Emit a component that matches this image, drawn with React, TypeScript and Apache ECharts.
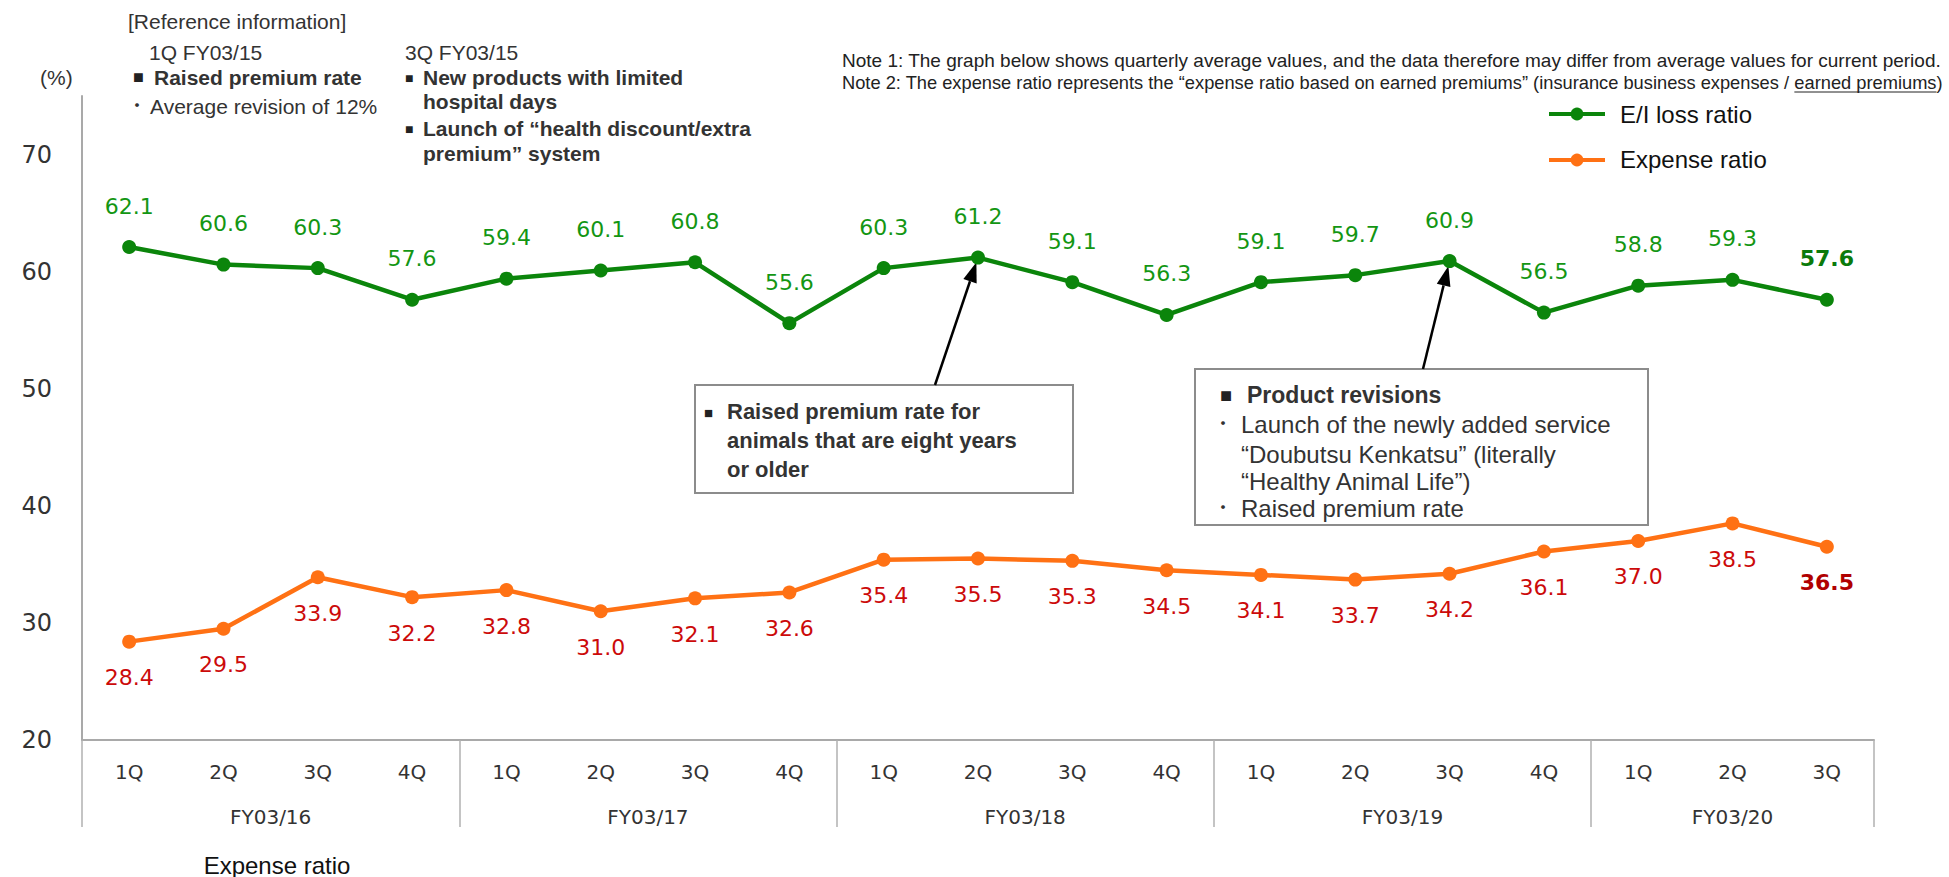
import React, { useEffect, useRef } from 'react';
import * as echarts from 'echarts';

const quarterLabels = ['1Q','2Q','3Q','4Q','1Q','2Q','3Q','4Q','1Q','2Q','3Q','4Q','1Q','2Q','3Q','4Q','1Q','2Q','3Q'];
const fiscalYears = ['FY03/16','FY03/17','FY03/18','FY03/19','FY03/20'];
const quartersPerYear = [4, 4, 4, 4, 3];
const lossRatio = [62.1,60.6,60.3,57.6,59.4,60.1,60.8,55.6,60.3,61.2,59.1,56.3,59.1,59.7,60.9,56.5,58.8,59.3,57.6];
const expenseRatio = [28.4,29.5,33.9,32.2,32.8,31.0,32.1,32.6,35.4,35.5,35.3,34.5,34.1,33.7,34.2,36.1,37.0,38.5,36.5];
const yTickLabels = [20, 30, 40, 50, 60, 70];
const annotationTargets = [9, 14]; // indices of points the arrows point to

const GREEN = '#0b850b';
const GREEN_LABEL = '#139613';
const ORANGE = '#ff7114';
const RED_LABEL = '#cc0a0a';
const ARIAL = '"Liberation Sans", Arial, "Noto Sans CJK JP", sans-serif';
const VERDANA = '"DejaVu Sans", Verdana, sans-serif';

function measure(text: string, font: string): number {
  const c = document.createElement('canvas').getContext('2d')!;
  c.font = font;
  return c.measureText(text).width;
}

export default function App() {
  const ref = useRef<HTMLDivElement>(null);
  useEffect(() => {
    const chart = echarts.init(ref.current!, undefined, { renderer: 'svg' });
    const categories = quarterLabels.map((q, i) => `${i}|${q}`);
    const boundaries: number[] = [];
    let acc = 0;
    quartersPerYear.forEach((n) => { boundaries.push(acc); acc += n; });
    const last = lossRatio.length - 1;

    chart.setOption({
      animation: false,
      grid: { left: 82, right: 75, top: 96, bottom: 137 },
      legend: {
        orient: 'vertical', left: 1542, top: 97, itemWidth: 56, itemHeight: 16, itemGap: 22,
        lineStyle: { width: 4 },
        textStyle: { fontFamily: ARIAL, fontSize: 24, color: '#111', padding: [0, 0, 0, 10] },
        data: ['E/I loss ratio', 'Expense ratio'],
      },
      xAxis: {
        type: 'category', data: categories, boundaryGap: true,
        axisLine: { lineStyle: { color: '#a9a9a9', width: 2 } },
        axisTick: {
          show: true, length: 87, interval: (i: number) => boundaries.includes(i),
          lineStyle: { color: '#b0b0b0', width: 1.5 },
        },
        axisLabel: {
          margin: 22, fontFamily: VERDANA, fontSize: 20, color: '#333',
          formatter: (v: string) => v.split('|')[1],
        },
      },
      yAxis: {
        type: 'value', min: 20, max: 75, interval: 10,
        axisLine: { show: true, lineStyle: { color: '#a9a9a9', width: 2 } },
        axisTick: { show: false }, splitLine: { show: false },
        axisLabel: {
          margin: 30, fontFamily: VERDANA, fontSize: 24, color: '#333',
          formatter: (v: number) => (yTickLabels.includes(v) ? String(v) : ''),
        },
      },
      series: [
        {
          type: 'line', name: 'E/I loss ratio', symbol: 'circle', symbolSize: 14,
          lineStyle: { width: 4.5, color: GREEN }, itemStyle: { color: GREEN },
          label: {
            show: true, position: 'top', distance: 23, color: GREEN_LABEL, fontSize: 22, fontFamily: VERDANA,
            formatter: (p: any) => Number(p.value).toFixed(1),
          },
          data: lossRatio.map((v, i) => i === last ? { value: v, label: { fontWeight: 'bold', color: '#0b7a0b' } } : v),
        },
        {
          type: 'line', name: 'Expense ratio', symbol: 'circle', symbolSize: 14,
          lineStyle: { width: 4.5, color: ORANGE }, itemStyle: { color: ORANGE },
          label: {
            show: true, position: 'bottom', distance: 18, color: RED_LABEL, fontSize: 22, fontFamily: VERDANA,
            formatter: (p: any) => Number(p.value).toFixed(1),
          },
          data: expenseRatio.map((v, i) => i === last ? { value: v, label: { fontWeight: 'bold', color: '#b00000' } } : v),
        },
      ],
    });

    const px = (i: number, v: number) => chart.convertToPixel({ xAxisIndex: 0, yAxisIndex: 0 }, [i, v]) as number[];
    const g: any[] = [];
    const txt = (text: string, x: number, y: number, size: number, opts: any = {}) => {
      g.push({
        type: 'text', x, y, silent: true,
        style: {
          text, fill: opts.fill || '#333', textAlign: opts.align || 'left', textVerticalAlign: opts.valign || 'middle',
          font: `${opts.bold ? 'bold ' : ''}${size}px ${opts.family || ARIAL}`, lineHeight: opts.lineHeight,
        },
      });
    };

    // Year labels under quarters
    let start = 0;
    fiscalYears.forEach((fy, k) => {
      const a = px(start, 20)[0];
      const b = px(start + quartersPerYear[k] - 1, 20)[0];
      txt(fy, (a + b) / 2, 817, 20, { align: 'center', family: VERDANA });
      start += quartersPerYear[k];
    });

    // Top-left reference information
    txt('[Reference information]', 128, 21, 21);
    txt('1Q FY03/15', 149, 52, 21);
    txt('(%)', 40, 77, 21);
    txt('\u25A0', 133, 77, 18, { fill: '#222' });
    txt('Raised premium rate', 154, 77, 21, { bold: true });
    txt('\u30FB', 128, 106, 18);
    txt('Average revision of 12%', 150, 106, 21);
    txt('3Q FY03/15', 405, 52, 21);
    txt('\u25A0', 405, 78, 14, { fill: '#222' });
    txt('New products with limited', 423, 77, 21, { bold: true });
    txt('hospital days', 423, 101, 21, { bold: true });
    txt('\u25A0', 405, 129, 14, { fill: '#222' });
    txt('Launch of \u201Chealth discount/extra', 423, 128, 21, { bold: true });
    txt('premium\u201D system', 423, 153, 21, { bold: true });

    // Notes
    const noteX = 842;
    const note1 = 'Note 1: The graph below shows quarterly average values, and the data therefore may differ from average values for current period.';
    txt(note1, noteX, 60, 19, { fill: '#222' });
    const n2a = 'Note 2: The expense ratio represents the \u201Cexpense ratio based on earned premiums\u201D (insurance business expenses / ';
    const n2b = 'earned premiums';
    const n2c = ')';
    const fullW19 = measure(n2a + n2b + n2c, `19px ${ARIAL}`);
    const n2size = Math.min(19, 19 * (1944 - noteX) / fullW19);
    const n2font = `${n2size}px ${ARIAL}`;
    const wa = measure(n2a, n2font);
    const wb = measure(n2b, n2font);
    txt(n2a, noteX, 82, n2size, { fill: '#222' });
    txt(n2b, noteX + wa, 82, n2size, { fill: '#222' });
    txt(n2c, noteX + wa + wb, 82, n2size, { fill: '#222' });
    g.push({ type: 'line', silent: true, shape: { x1: noteX + wa, y1: 92, x2: noteX + wa + wb, y2: 92 }, style: { stroke: '#222', lineWidth: 1 } });

    // Annotation box 1
    g.push({ type: 'rect', silent: true, shape: { x: 695, y: 385, width: 378, height: 108 }, style: { fill: '#fff', stroke: '#8c8c8c', lineWidth: 2 } });
    txt('\u25A0', 704, 412, 15, { fill: '#222' });
    txt('Raised premium rate for\nanimals that are eight years\nor older', 727, 397, 22, { bold: true, valign: 'top', lineHeight: 29 });

    // Annotation box 2
    g.push({ type: 'rect', silent: true, shape: { x: 1195, y: 369, width: 453, height: 156 }, style: { fill: '#fff', stroke: '#8c8c8c', lineWidth: 2 } });
    txt('\u25A0', 1220, 395, 20, { fill: '#222' });
    txt('Product revisions', 1247, 395, 23, { bold: true });
    txt('\u30FB', 1214, 424, 18);
    txt('Launch of the newly added service', 1241, 424, 24);
    txt('\u201CDoubutsu Kenkatsu\u201D (literally', 1241, 454, 24);
    txt('\u201CHealthy Animal Life\u201D)', 1241, 481, 24);
    txt('\u30FB', 1214, 508, 18);
    txt('Raised premium rate', 1241, 508, 24);

    // Arrows from boxes to data points
    const arrowStarts = [[935, 385], [1423, 369]];
    annotationTargets.forEach((idx, k) => {
      const [tx, ty] = px(idx, lossRatio[idx]);
      const [sx, sy] = arrowStarts[k];
      const dx = tx - sx, dy = ty - sy;
      const len = Math.hypot(dx, dy);
      const ux = dx / len, uy = dy / len;
      const tipX = tx - ux * 5, tipY = ty - uy * 5;
      const bx = tipX - ux * 20, by = tipY - uy * 20;
      const nx = -uy, ny = ux;
      g.push({ type: 'line', silent: true, shape: { x1: sx, y1: sy, x2: bx, y2: by }, style: { stroke: '#000', lineWidth: 2.5 } });
      g.push({
        type: 'polygon', silent: true,
        shape: { points: [[tipX, tipY], [bx + nx * 7, by + ny * 7], [bx - nx * 7, by - ny * 7]] },
        style: { fill: '#000' },
      });
    });

    // Bottom label
    txt('Expense ratio', 277, 865, 24, { align: 'center', fill: '#111' });

    chart.setOption({ graphic: g });
    return () => chart.dispose();
  }, []);
  return <div ref={ref} style={{ position: 'fixed', left: 0, top: 0, width: 1949, height: 877, background: '#fff' }} />;
}
